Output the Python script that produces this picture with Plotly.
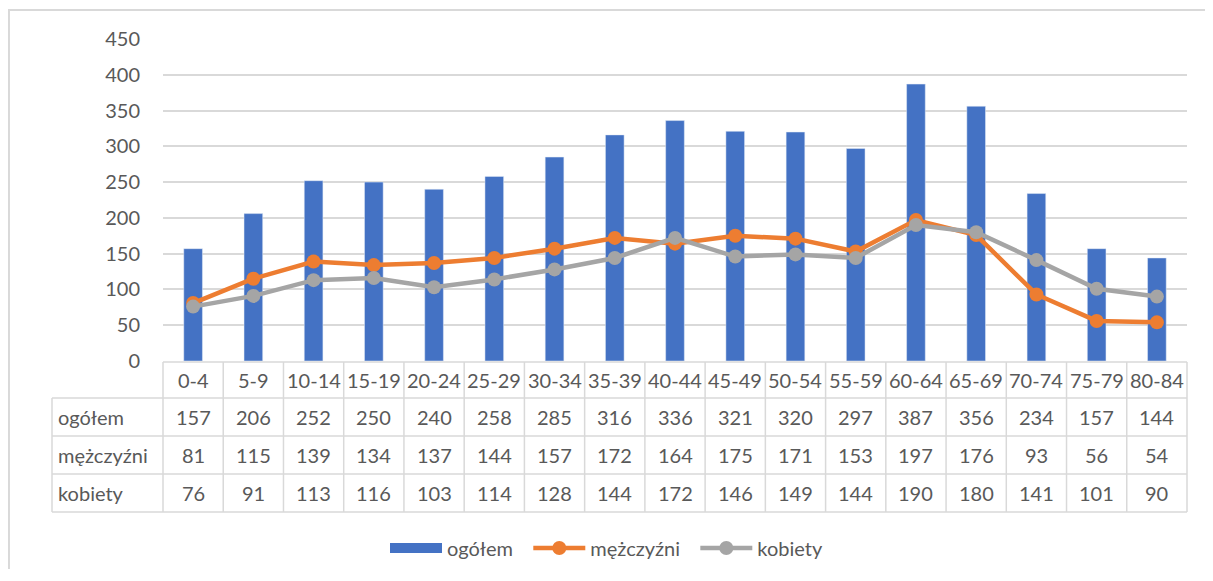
import plotly.graph_objects as go

# age groups and counts
grupy = ["0-4", "5-9", "10-14", "15-19", "20-24", "25-29", "30-34", "35-39", "40-44",
         "45-49", "50-54", "55-59", "60-64", "65-69", "70-74", "75-79", "80-84"]
ogolem = [157, 206, 252, 250, 240, 258, 285, 316, 336, 321, 320, 297, 387, 356, 234, 157, 144]
mezczyzni = [81, 115, 139, 134, 137, 144, 157, 172, 164, 175, 171, 153, 197, 176, 93, 56, 54]
kobiety = [76, 91, 113, 116, 103, 114, 128, 144, 172, 146, 149, 144, 190, 180, 141, 101, 90]

# page body has an 8px margin, so the figure is a bit smaller than the window
OFF = 8
W, H = 1213 - 2 * OFF, 581 - 2 * OFF - 4
FONT = "Lato"
TXT = "#595959"
GRID = "#D9D9D9"
NB = "\u00a0"


def px(x):
    return (x - OFF) / W


def py(y):
    return 1 - (y - OFF) / H


# plot area in window pixels
X0, X1 = 163, 1187
Y_TOP, Y_ZERO = 39, 361
col_w = (X1 - X0) / len(grupy)
row_y = [362, 398, 436, 474, 512]
label_x0 = 52

fig = go.Figure()
fig.add_trace(go.Bar(x=grupy, y=ogolem, name="ogółem", marker_color="#4472C4", width=0.31,
                     showlegend=False))
# legend entry for the bars drawn as a wide block like in the original
fig.add_trace(go.Scatter(x=[None], y=[None], name="ogółem" + NB * 2, mode="lines",
                         line=dict(color="#4472C4", width=14)))
fig.add_trace(go.Scatter(x=grupy, y=mezczyzni, name="mężczyźni" + NB * 2, mode="lines+markers",
                         line=dict(color="#ED7D31", width=4.5),
                         marker=dict(size=14, color="#ED7D31")))
fig.add_trace(go.Scatter(x=grupy, y=kobiety, name="kobiety", mode="lines+markers",
                         line=dict(color="#A5A5A5", width=4.5),
                         marker=dict(size=14, color="#A5A5A5")))

shapes = []
ann = []
line = dict(color=GRID, width=1.5)

# outer frame (only left and top edges show)
shapes.append(dict(type="line", xref="paper", yref="paper", x0=0.0008, x1=0.0008,
                   y0=0, y1=py(10), line=dict(color=GRID, width=2)))
shapes.append(dict(type="line", xref="paper", yref="paper", x0=0, x1=1,
                   y0=py(10), y1=py(10), line=dict(color=GRID, width=2)))

# data table grid
shapes.append(dict(type="line", xref="paper", yref="paper", x0=px(X0), x1=px(X1),
                   y0=py(row_y[0]), y1=py(row_y[0]), line=line))
for yy in row_y[1:]:
    shapes.append(dict(type="line", xref="paper", yref="paper", x0=px(label_x0), x1=px(X1),
                       y0=py(yy), y1=py(yy), line=line))
shapes.append(dict(type="line", xref="paper", yref="paper", x0=px(label_x0), x1=px(label_x0),
                   y0=py(row_y[1]), y1=py(row_y[-1]), line=line))
for i in range(len(grupy) + 1):
    xx = X0 + i * col_w
    shapes.append(dict(type="line", xref="paper", yref="paper", x0=px(xx), x1=px(xx),
                       y0=py(row_y[0]), y1=py(row_y[-1]), line=line))

# table text
rows = [("ogółem", ogolem), ("mężczyźni", mezczyzni), ("kobiety", kobiety)]
for i, g in enumerate(grupy):
    xc = X0 + (i + 0.5) * col_w
    ann.append(dict(x=px(xc), y=py((row_y[0] + row_y[1]) / 2), text=g))
    for r, (_, vals) in enumerate(rows):
        ann.append(dict(x=px(xc), y=py((row_y[r + 1] + row_y[r + 2]) / 2), text=str(vals[i])))
for r, (name, _) in enumerate(rows):
    ann.append(dict(x=px(56), y=py((row_y[r + 1] + row_y[r + 2]) / 2), text=name, xanchor="left"))
for a in ann:
    a.update(xref="paper", yref="paper", showarrow=False, yanchor="middle",
             font=dict(size=20, color=TXT, family=FONT))
    a.setdefault("xanchor", "center")

fig.update_layout(
    width=W, height=H,
    margin=dict(l=0, r=0, t=0, b=0, autoexpand=False),
    paper_bgcolor="white", plot_bgcolor="white",
    font=dict(family=FONT, size=20, color=TXT),
    shapes=shapes, annotations=ann,
    legend=dict(orientation="h", x=0.5, xanchor="center", y=py(548), yanchor="middle",
                font=dict(size=20, color=TXT), itemwidth=52),
    xaxis=dict(domain=[px(X0), px(X1)], range=[-0.5, len(grupy) - 0.5], automargin=False,
               showticklabels=False, showgrid=False, zeroline=False, showline=False),
    yaxis=dict(domain=[py(Y_ZERO), py(Y_TOP)], range=[0, 450], dtick=50, automargin=False,
               gridcolor=GRID, gridwidth=1.5, zeroline=False, showline=False,
               ticklabelstandoff=22, tickfont=dict(size=20, color=TXT)),
)

fig.write_html("out.html")
